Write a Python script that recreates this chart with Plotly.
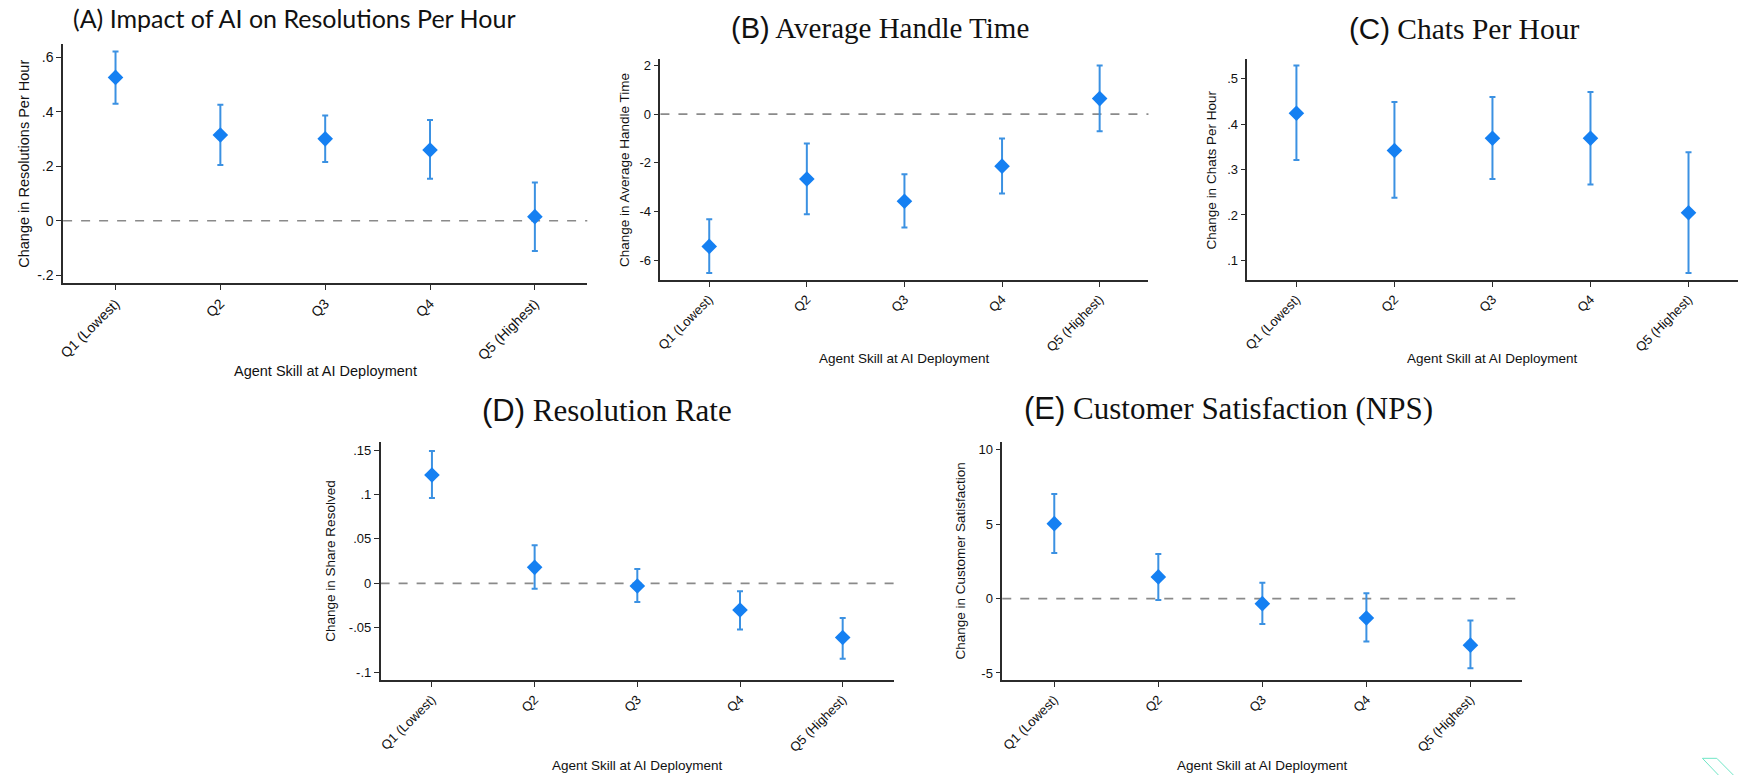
import plotly.graph_objects as go

W, H = 1742, 775

# Agent skill quintiles (x categories)
quintiles = ["Q1 (Lowest)", "Q2", "Q3", "Q4", "Q5 (Highest)"]

# (A) Resolutions per hour
res_hr_est = [0.527, 0.315, 0.301, 0.260, 0.015]
res_hr_hi = [0.622, 0.426, 0.387, 0.370, 0.141]
res_hr_lo = [0.430, 0.205, 0.216, 0.154, -0.111]

# (B) Average handle time
aht_est = [-5.44, -2.67, -3.58, -2.14, 0.64]
aht_hi = [-4.32, -1.21, -2.47, -1.00, 2.00]
aht_lo = [-6.53, -4.12, -4.66, -3.26, -0.70]

# (C) Chats per hour
chats_est = [0.424, 0.342, 0.369, 0.369, 0.205]
chats_hi = [0.529, 0.449, 0.460, 0.471, 0.338]
chats_lo = [0.321, 0.238, 0.279, 0.267, 0.072]

# (D) Resolution rate
share_est = [0.122, 0.018, -0.003, -0.030, -0.061]
share_hi = [0.149, 0.043, 0.016, -0.009, -0.039]
share_lo = [0.096, -0.006, -0.021, -0.052, -0.085]

# (E) Customer satisfaction (NPS)
nps_est = [5.04, 1.46, -0.34, -1.30, -3.13]
nps_hi = [7.03, 3.00, 1.07, 0.36, -1.48]
nps_lo = [3.07, -0.09, -1.70, -2.89, -4.68]

# y tick values / labels per panel
ticks_a = [-0.2, 0, 0.2, 0.4, 0.6]
ticktext_a = ["-.2", "0", ".2", ".4", ".6"]
ticks_b = [-6, -4, -2, 0, 2]
ticktext_b = ["-6", "-4", "-2", "0", "2"]
ticks_c = [0.1, 0.2, 0.3, 0.4, 0.5]
ticktext_c = [".1", ".2", ".3", ".4", ".5"]
ticks_d = [-0.1, -0.05, 0, 0.05, 0.1, 0.15]
ticktext_d = ["-.1", "-.05", "0", ".05", ".1", ".15"]
ticks_e = [-5, 0, 5, 10]
ticktext_e = ["-5", "0", "5", "10"]

x_title = "Agent Skill at AI Deployment"

MARKER = "#1580f2"
BAR = "#3b91e2"
AXIS = "#2b2b2b"
SANS = "Liberation Sans, Arial, sans-serif"
SERIF = "Liberation Serif, Times New Roman, serif"


def px_dom_x(left, right):
    return [left / W, right / W]


def px_dom_y(top, bottom):
    return [1 - bottom / H, 1 - top / H]


panels = [
    dict(est=res_hr_est, hi=res_hr_hi, lo=res_hr_lo, box=(57.3, 42.7, 583.3, 282.7),
         yr=[-0.230, 0.651], tv=ticks_a, tt=ticktext_a,
         ytitle="Change in Resolutions Per Hour", ytx=18.3, xty=370, fs=14),
    dict(est=aht_est, hi=aht_hi, lo=aht_lo, box=(656.7, 58.3, 1146.4, 279.3),
         yr=[-6.82, 2.26], tv=ticks_b, tt=ticktext_b,
         ytitle="Change in Average Handle Time", ytx=620.6, xty=358, fs=13),
    dict(est=chats_est, hi=chats_hi, lo=chats_lo, box=(1245.7, 58.3, 1737.5, 279.3),
         yr=[0.057, 0.543], tv=ticks_c, tt=ticktext_c,
         ytitle="Change in Chats Per Hour", ytx=1210, xty=358, fs=13),
    dict(est=share_est, hi=share_hi, lo=share_lo, box=(375.9, 441.7, 891.1, 680),
         yr=[-0.109, 0.159], tv=ticks_d, tt=ticktext_d,
         ytitle="Change in Share Resolved", ytx=325.7, xty=765, fs=13),
    dict(est=nps_est, hi=nps_hi, lo=nps_lo, box=(999.7, 441.7, 1521.7, 680),
         yr=[-5.48, 10.52], tv=ticks_e, tt=ticktext_e,
         ytitle="Change in Customer Satisfaction", ytx=957.7, xty=765, fs=13),
]

fig = go.Figure()
annotations = []
shapes = []

for i, p in enumerate(panels, start=1):
    xa = "x" if i == 1 else f"x{i}"
    ya = "y" if i == 1 else f"y{i}"
    left, top, right, bottom = p["box"]
    up = [h - e for h, e in zip(p["hi"], p["est"])]
    down = [e - l for e, l in zip(p["est"], p["lo"])]

    fig.add_trace(go.Scatter(
        x=quintiles, y=p["est"], mode="markers", xaxis=xa, yaxis=ya,
        marker=dict(symbol="diamond", size=12, color=MARKER, line=dict(width=0)),
        error_y=dict(type="data", symmetric=False, array=up, arrayminus=down,
                     color=BAR, thickness=2, width=3),
        showlegend=False, hoverinfo="x+y",
    ))

    axis_common = dict(showline=True, linecolor=AXIS, linewidth=1.5, ticks="outside",
                       tickcolor=AXIS, ticklen=5, tickwidth=1.2, showgrid=False,
                       zeroline=False, mirror=False,
                       tickfont=dict(family=SANS, size=p["fs"], color="#111"))
    fig.layout[f"xaxis{'' if i == 1 else i}"] = dict(
        axis_common, domain=px_dom_x(left, right), anchor=ya,
        type="category", range=[-0.5, 4.5], tickangle=-45,
    )
    fig.layout[f"yaxis{'' if i == 1 else i}"] = dict(
        axis_common, domain=px_dom_y(top, bottom), anchor=xa,
        range=p["yr"], tickvals=p["tv"], ticktext=p["tt"],
    )

    # zero reference line
    shapes.append(dict(type="line", xref=f"{xa} domain", yref=ya, x0=0, x1=1, y0=0, y1=0,
                       line=dict(color="#8a8a8a", width=1.6, dash="dash"), layer="below"))

    # axis titles
    annotations.append(dict(text=p["ytitle"], xref="paper", yref="paper",
                            x=p["ytx"] / W, y=1 - ((top + bottom) / 2) / H,
                            textangle=-90, showarrow=False, xanchor="center", yanchor="middle",
                            font=dict(family=SANS, size=14.5 if i == 1 else 13.5, color="#111")))
    annotations.append(dict(text=x_title, xref="paper", yref="paper",
                            x=((left + right) / 2) / W, y=1 - p["xty"] / H,
                            showarrow=False, xanchor="center", yanchor="middle",
                            font=dict(family=SANS, size=14.5 if i == 1 else 13.5, color="#111")))

# Panel headings
headings = [
    ("(A) Impact of AI on Resolutions Per Hour", 65, 17, "Lato, Open Sans, sans-serif", 25),
    ("<span style='font-family:Liberation Sans'>(B)</span> Average Handle Time", 725.8, 27, SERIF, 29),
    ("<span style='font-family:Liberation Sans'>(C)</span> Chats Per Hour", 1346, 28, SERIF, 29.5),
    ("<span style='font-family:Liberation Sans'>(D)</span> Resolution Rate", 476, 410, SERIF, 31),
    ("<span style='font-family:Liberation Sans'>(E)</span> Customer Satisfaction (NPS)", 1020, 408, SERIF, 31),
]
for text, hx, hy, fam, size in headings:
    annotations.append(dict(text=text, xref="paper", yref="paper", x=hx / W, y=1 - hy / H,
                            xanchor="left", yanchor="middle", showarrow=False,
                            font=dict(family=fam, size=size, color="#111")))

# small corner mark
shapes.append(dict(type="path", xref="paper", yref="paper",
                   path=f"M {1718.3 / W},{0} L {1702.3 / W},{1 - 758.3 / H} L {1716.7 / W},{1 - 758.3 / H} L {1733.3 / W},{0}",
                   line=dict(color="#6fe6c6", width=1)))

fig.update_layout(
    width=W, height=H, margin=dict(l=0, r=0, t=0, b=0),
    paper_bgcolor="white", plot_bgcolor="white",
    annotations=annotations, shapes=shapes,
)

fig.write_html("out.html", config={"displayModeBar": False})
